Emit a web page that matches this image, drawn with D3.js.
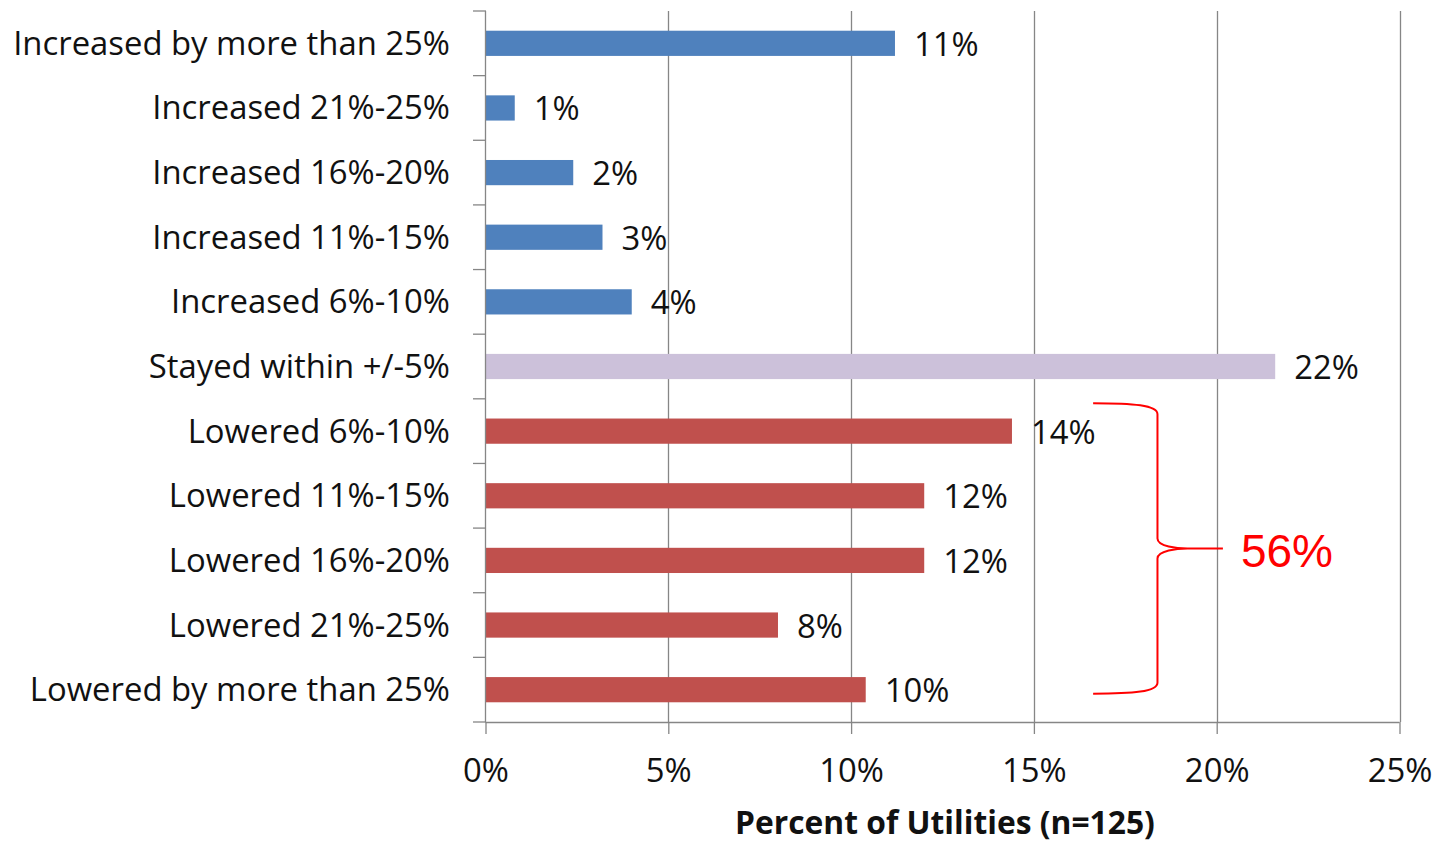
<!DOCTYPE html>
<html>
<head>
<meta charset="utf-8">
<script src="https://cdn.jsdelivr.net/npm/d3@7"></script>
<style>
  html, body { margin: 0; padding: 0; background: #fff; }
  svg { display: block; }
</style>
</head>
<body>
<svg id="chart" width="1439" height="844"></svg>
<script>
// ---- data ----
const categories = [
  "Increased by more than 25%",
  "Increased 21%-25%",
  "Increased 16%-20%",
  "Increased 11%-15%",
  "Increased 6%-10%",
  "Stayed within +/-5%",
  "Lowered 6%-10%",
  "Lowered 11%-15%",
  "Lowered 16%-20%",
  "Lowered 21%-25%",
  "Lowered by more than 25%"
];
const values = [11.2, 0.8, 2.4, 3.2, 4.0, 21.6, 14.4, 12.0, 12.0, 8.0, 10.4];
const valueLabels = ["11%", "1%", "2%", "3%", "4%", "22%", "14%", "12%", "12%", "8%", "10%"];
const groups = ["inc", "inc", "inc", "inc", "inc", "same", "low", "low", "low", "low", "low"];
const xTicks = [0, 5, 10, 15, 20, 25];
const xTickLabels = ["0%", "5%", "10%", "15%", "20%", "25%"];
const axisTitle = "Percent of Utilities (n=125)";
const braceCategories = ["Lowered 6%-10%", "Lowered by more than 25%"];
const braceLabel = "56%";

// ---- styles ----
const colors = { inc: "#4F81BD", same: "#CCC1DA", low: "#C0504D" };
const axisColor = "#868686";
const FONT = "'Open Sans', 'Noto Sans', sans-serif";

const svg = d3.select("#chart");

const x = d3.scaleLinear().domain([0, 25]).range([485.5, 1399.5]);
const y = d3.scaleBand().domain(categories).range([11, 722])
  .paddingInner(0.61).paddingOuter(0.305);
const step = y.step();

// Fit font size to match reference label width
const probe = svg.append("text").attr("font-family", FONT).attr("font-size", 29).text(categories[0]);
const w = probe.node().getComputedTextLength();
probe.remove();
const fs = 29 * 437 / w;
const probe2 = svg.append("text").attr("font-family", FONT).attr("font-weight", "bold").attr("font-size", 29).text(axisTitle);
const w2 = probe2.node().getComputedTextLength();
probe2.remove();
const fsTitle = 29 * 420 / w2;

// gridlines
svg.append("g").selectAll("line").data(xTicks.slice(1)).join("line")
  .attr("x1", d => Math.round(x(d)) + 0.5).attr("x2", d => Math.round(x(d)) + 0.5)
  .attr("y1", 11).attr("y2", 722)
  .attr("stroke", axisColor).attr("stroke-width", 1.3);

// bars
svg.append("g").selectAll("rect").data(categories).join("rect")
  .attr("x", x(0))
  .attr("y", d => y(d))
  .attr("width", (d, i) => x(values[i]) - x(0))
  .attr("height", y.bandwidth())
  .attr("fill", (d, i) => colors[groups[i]]);

// left axis
const yAxisG = svg.append("g");
yAxisG.append("line").attr("x1", 485.5).attr("x2", 485.5).attr("y1", 11).attr("y2", 722)
  .attr("stroke", axisColor).attr("stroke-width", 1.3);
const boundaries = d3.range(categories.length + 1).map(i => 11 + i * step);
yAxisG.selectAll("line.t").data(boundaries).join("line").attr("class", "t")
  .attr("x1", 473).attr("x2", 486).attr("y1", d => d).attr("y2", d => d)
  .attr("stroke", axisColor).attr("stroke-width", 1.3);
yAxisG.selectAll("text").data(categories).join("text")
  .attr("x", 450).attr("y", d => y(d) + y.bandwidth() / 2)
  .attr("dy", "0.35em").attr("text-anchor", "end")
  .attr("font-family", FONT).attr("font-size", fs).attr("fill", "#111")
  .text(d => d);

// bottom axis
const xAxisG = svg.append("g").attr("transform", "translate(0,722)");
const xAxis = d3.axisBottom(x).tickValues(xTicks).tickSize(12).tickPadding(25)
  .tickFormat((d, i) => xTickLabels[i]);
xAxisG.call(xAxis);
xAxisG.select(".domain").attr("stroke", axisColor).attr("stroke-width", 1.3).attr("d", "M485.5,0.5H1399.5");
xAxisG.selectAll(".tick line").attr("stroke", axisColor).attr("stroke-width", 1.3);
xAxisG.selectAll(".tick text").attr("font-family", FONT).attr("font-size", fs).attr("fill", "#111");

// axis title
svg.append("text").attr("x", 945).attr("y", 834).attr("text-anchor", "middle")
  .attr("font-family", FONT).attr("font-weight", "bold").attr("font-size", fsTitle)
  .attr("fill", "#111").text(axisTitle);

// value labels
svg.append("g").selectAll("text").data(categories).join("text")
  .attr("x", (d, i) => x(values[i]) + 19)
  .attr("y", d => y(d) + y.bandwidth() / 2)
  .attr("dy", "0.38em")
  .attr("font-family", FONT).attr("font-size", fs).attr("fill", "#111")
  .text((d, i) => valueLabels[i]);

// brace annotation
const yTop = y(braceCategories[0]) + y.bandwidth() / 2 - 28;
const yBot = y(braceCategories[1]) + y.bandwidth() / 2 + 4;
const yMid = (yTop + yBot) / 2;
const xl = x(16.62), xs = x(18.38), xt = x(20.17);
const p = d3.path();
p.moveTo(xl, yTop);
p.bezierCurveTo(xl + 40, yTop, xs, yTop + 2, xs, yTop + 11);
p.lineTo(xs, yMid - 10);
p.bezierCurveTo(xs, yMid - 2, xs + 20, yMid, xs + 30, yMid);
p.lineTo(xt, yMid);
p.moveTo(xs + 30, yMid);
p.bezierCurveTo(xs + 20, yMid, xs, yMid + 2, xs, yMid + 10);
p.lineTo(xs, yBot - 11);
p.bezierCurveTo(xs, yBot - 2, xl + 40, yBot, xl, yBot);
svg.append("path").attr("d", p.toString()).attr("fill", "none")
  .attr("stroke", "#FF0000").attr("stroke-width", 2);
svg.append("text").attr("x", xt + 18).attr("y", yMid + 19)
  .attr("font-family", "'Liberation Sans', Arial, sans-serif").attr("font-size", 46)
  .attr("fill", "#FF0000").text(braceLabel);
</script>
</body>
</html>
